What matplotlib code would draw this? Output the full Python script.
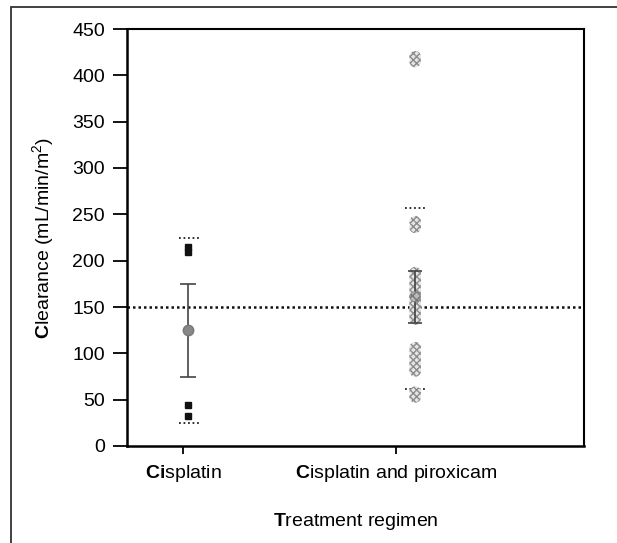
import matplotlib.pyplot as plt
from matplotlib.patches import Rectangle

plt.rcParams['font.family'] = ['Liberation Sans', 'DejaVu Sans']
plt.rcParams['mathtext.fontset'] = 'custom'
plt.rcParams['mathtext.rm'] = 'Liberation Sans'
plt.rcParams['mathtext.bf'] = 'Liberation Sans:bold'
plt.rcParams['hatch.linewidth'] = 1.0

# data
groups = [r'$\mathbf{Ci}$splatin', r'$\mathbf{C}$isplatin and piroxicam']
cis_vals = [215, 209, 44, 32]
cis_mean, cis_lo, cis_hi = 125, 75, 175
cis_range = [224, 25]
combo_vals = [420, 415, 242, 236, 187, 182, 178, 174, 170, 166, 163, 160, 157,
              153, 149, 145, 141, 137, 106, 101, 97, 93, 89, 85, 81, 58, 53]
combo_mean, combo_lo, combo_hi = 161, 133, 189
combo_range = [257, 62]
overall_line = 150
yticks = [0, 50, 100, 150, 200, 250, 300, 350, 400, 450]

fig = plt.figure(figsize=(6.17, 5.43), dpi=100)
# outer frame
fig.patches.append(Rectangle((11/617, -0.2), 2.0, 1.2 - 7/543, transform=fig.transFigure,
                             fill=False, edgecolor='#333333', linewidth=1.3))
ax = fig.add_axes([127/617, 1 - 446/543, 457/617, 417/543])

x_cis = 1.025
x_combo = 2.09

# cisplatin group
ax.plot([x_cis]*len(cis_vals), cis_vals, 's', color='#111111', ms=5, zorder=3)
ax.errorbar(x_cis, cis_mean, yerr=[[cis_mean - cis_lo], [cis_hi - cis_mean]],
            fmt='o', color='#555555', ms=7.5, mfc='#888888', mec='#777777',
            ecolor='#444444', elinewidth=1.2, capsize=5.5, capthick=1.2, zorder=4)
for v in cis_range:
    ax.plot([x_cis - 0.045, x_cis + 0.055], [v, v], ls=(0, (1, 1.5)), color='#222222', lw=1.3)

# cisplatin + piroxicam group
ax.scatter([x_combo]*len(combo_vals), combo_vals, marker='o', s=70, facecolor='#e6e6e6',
           edgecolor='#8a8a8a', hatch='xxxxx', linewidth=0, zorder=3)
ax.errorbar(x_combo, combo_mean, yerr=[[combo_mean - combo_lo], [combo_hi - combo_mean]],
            fmt='none', ecolor='#444444', elinewidth=1.2, capsize=5, capthick=1.2, zorder=4)
ax.scatter([x_combo], [combo_mean], marker='o', s=55, facecolor='#bbbbbb',
           edgecolor='#777777', hatch='xxxx', linewidth=0.5, zorder=4)
for v in combo_range:
    ax.plot([x_combo - 0.05, x_combo + 0.05], [v, v], ls=(0, (1, 1.5)), color='#222222', lw=1.3)

ax.axhline(overall_line, ls=(0, (1, 1.2)), color='#111111', lw=1.8, zorder=2)

ax.set_xlim(1 - 56/213, 2 + 188/213)
ax.set_ylim(0, 450)
ax.set_yticks(yticks)
ax.set_xticks([1, 2])
ax.set_xticklabels(groups)
ax.tick_params(axis='y', direction='out', length=10, width=1.3, pad=6, labelsize=14)
ax.tick_params(axis='x', direction='out', length=6, width=1.3, pad=6, labelsize=14)
for s in ['left', 'bottom']:
    ax.spines[s].set_linewidth(1.8)
for s in ['top', 'right']:
    ax.spines[s].set_linewidth(1.5)

ax.set_ylabel(r'$\mathbf{C}$learance (mL/min/m$^2$)', fontsize=14, labelpad=11)
ax.set_xlabel(r'$\mathbf{T}$reatment regimen', fontsize=14, labelpad=20)

fig.savefig('out.png', dpi=100)
